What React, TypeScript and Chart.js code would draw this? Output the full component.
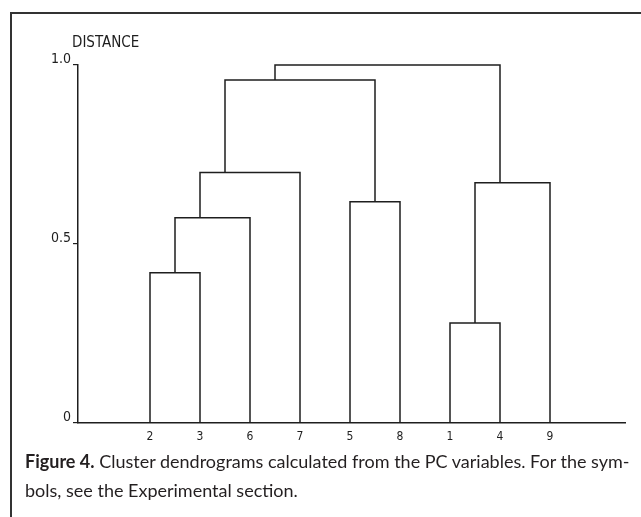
import React, { useEffect, useRef } from 'react';
import { Chart, registerables } from 'chart.js';

Chart.register(...registerables);

// ---- data ----
const leafLabels = ['2', '3', '6', '7', '5', '8', '1', '4', '9'];
// node ids: 0-8 are leaves (in display order), 9+ are merged clusters in merge order
const mergeLeft = [0, 9, 10, 4, 11, 6, 14, 13];
const mergeRight = [1, 2, 3, 5, 12, 7, 8, 15];
const mergeHeight = [0.42, 0.573, 0.7, 0.618, 0.958, 0.279, 0.671, 1.0];
const yTickValues = [0, 0.5, 1.0];
const yTickLabels = ['0', '0.5', '1.0'];
const yAxisTitle = 'DISTANCE';
const captionBold = 'Figure 4.';
const captionLine1 = ' Cluster dendrograms calculated from the PC variables. For the sym-';
const captionLine2 = 'bols, see the Experimental section.';

const INK = '#1e1e1e';
const AXIS_FONT = "'Liberation Sans Narrow', 'DejaVu Sans Condensed', 'DejaVu Sans', sans-serif";

function buildDatasets() {
  const nodeX: number[] = leafLabels.map((_, i) => i);
  const nodeH: number[] = leafLabels.map(() => 0);
  const nodeLeaves: number[][] = leafLabels.map((_, i) => [i]);
  const datasets: any[] = [];
  mergeLeft.forEach((l, k) => {
    const r = mergeRight[k];
    const h = mergeHeight[k];
    const leaves = nodeLeaves[l].concat(nodeLeaves[r]);
    nodeLeaves.push(leaves);
    nodeX.push(leaves.reduce((a, b) => a + b, 0) / leaves.length);
    nodeH.push(h);
    datasets.push({
      data: [
        { x: nodeX[l], y: nodeH[l] },
        { x: nodeX[l], y: h },
        { x: nodeX[r], y: h },
        { x: nodeX[r], y: nodeH[r] },
      ],
      showLine: true,
      borderColor: INK,
      borderWidth: 1.5,
      pointRadius: 0,
      tension: 0,
      fill: false,
      clip: false,
    });
  });
  return datasets;
}

const titlePlugin = {
  id: 'distanceTitle',
  afterDraw(chart: any) {
    const { ctx, chartArea } = chart;
    ctx.save();
    ctx.fillStyle = INK;
    ctx.font = `15px ${AXIS_FONT}`;
    ctx.textAlign = 'left';
    ctx.textBaseline = 'middle';
    ctx.fillText(yAxisTitle, chartArea.left - 6, chartArea.top - 22);
    ctx.restore();
  },
};

export default function App() {
  const ref = useRef<HTMLCanvasElement | null>(null);
  useEffect(() => {
    if (!ref.current) return;
    const chart = new Chart(ref.current, {
      type: 'scatter',
      data: { datasets: buildDatasets() },
      options: {
        animation: false,
        responsive: false,
        maintainAspectRatio: false,
        layout: { padding: { left: 38, right: 16, top: 65, bottom: 0 } },
        plugins: {
          legend: { display: false },
          tooltip: { enabled: false },
          title: { display: false },
        },
        scales: {
          x: {
            type: 'linear',
            min: -1.44,
            max: 9.5,
            afterFit: (s: any) => {
              s.height = 27;
            },
            afterBuildTicks: (s: any) => {
              s.ticks = leafLabels.map((_, i) => ({ value: i }));
            },
            grid: { display: false, drawTicks: false },
            border: { display: true, color: INK, width: 1.5 },
            ticks: {
              autoSkip: false,
              maxRotation: 0,
              padding: 7,
              color: INK,
              font: { family: AXIS_FONT, size: 12 },
              callback: (_v: any, i: number) => leafLabels[i],
            },
          },
          y: {
            type: 'linear',
            min: 0,
            max: 1,
            afterFit: (s: any) => {
              s.width = 40;
            },
            afterBuildTicks: (s: any) => {
              s.ticks = yTickValues.map((v) => ({ value: v }));
            },
            grid: {
              display: true,
              drawOnChartArea: false,
              drawTicks: true,
              tickLength: 5,
              color: INK,
              lineWidth: 1.2,
            },
            border: { display: true, color: INK, width: 1.5 },
            ticks: {
              padding: 2,
              labelOffset: -6,
              color: INK,
              font: { family: AXIS_FONT, size: 14 },
              callback: (_v: any, i: number) => yTickLabels[i],
            },
          },
        },
      },
      plugins: [titlePlugin],
    });
    return () => chart.destroy();
  }, []);

  return (
    <div style={{ position: 'absolute', left: 0, top: 0, width: 641, height: 517, background: '#fff', overflow: 'hidden' }}>
      <div
        style={{
          position: 'absolute',
          left: 10,
          top: 12,
          width: 640,
          height: 520,
          borderTop: '2px solid #333',
          borderLeft: '2px solid #333',
          boxSizing: 'border-box',
        }}
      />
      <canvas ref={ref} width={641} height={450} style={{ position: 'absolute', left: 0, top: 0, display: 'block' }} />
      <div
        style={{
          position: 'absolute',
          left: 25,
          top: 447,
          fontFamily: "Lato, 'Open Sans', sans-serif",
          fontSize: 18,
          lineHeight: '29px',
          color: '#231f20',
          whiteSpace: 'nowrap',
        }}
      >
        <div>
          <span style={{ fontWeight: 700 }}>{captionBold}</span>
          {captionLine1}
        </div>
        <div>{captionLine2}</div>
      </div>
    </div>
  );
}
